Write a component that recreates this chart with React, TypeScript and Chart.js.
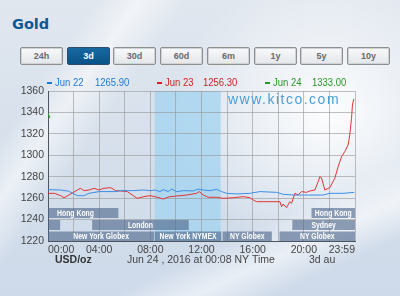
import React, { useEffect, useRef } from 'react';
import { Chart, registerables } from 'chart.js';

Chart.register(...registerables);

// ---------- data ----------
const jun22Hours = [0, 1.0, 1.6, 2.3, 2.8, 3.2, 4.0, 5.3, 5.7, 6.6, 7.5, 8.0, 8.4, 8.75, 9.0, 9.4, 9.66, 10.05, 10.6, 11.35, 11.74, 12.14, 12.66, 13.18, 13.57, 13.96, 14.74, 15.78, 16.56, 17.86, 18.38, 19.17, 21.5, 22.03, 23.07, 23.95];
const jun22Values = [1267.9, 1267.6, 1266.5, 1262.3, 1262.3, 1264.5, 1266.1, 1266.1, 1267.0, 1267.0, 1267.6, 1267.0, 1267.6, 1266.1, 1267.9, 1266.1, 1268.5, 1266.1, 1267.0, 1266.7, 1268.5, 1267.6, 1267.0, 1268.2, 1266.1, 1264.5, 1263.9, 1264.5, 1266.1, 1265.4, 1263.6, 1262.9, 1262.9, 1264.5, 1264.5, 1265.4];

const jun23Hours = [0, 0.5, 1.0, 1.25, 1.64, 2.29, 2.55, 2.81, 3.2, 3.6, 3.98, 4.37, 4.9, 5.29, 5.68, 6.2, 6.59, 6.98, 7.5, 7.97, 8.36, 9.01, 9.53, 10.05, 10.83, 11.35, 11.62, 11.82, 12.14, 12.53, 13.18, 13.7, 14.48, 15.26, 15.78, 16.04, 16.3, 18.13, 18.26, 18.38, 18.65, 18.9, 19.04, 19.3, 19.56, 19.82, 20.21, 20.47, 20.86, 21.12, 21.25, 21.38, 21.64, 22.03, 22.42, 22.68, 22.95, 23.2, 23.46, 23.59, 23.73, 23.8, 23.9];
const jun23Values = [1264.5, 1264.5, 1262.3, 1260.4, 1262.9, 1267.6, 1269.2, 1267.0, 1267.6, 1269.2, 1267.6, 1269.2, 1269.8, 1267.0, 1266.7, 1266.1, 1262.9, 1259.8, 1261.4, 1262.3, 1261.4, 1259.2, 1261.4, 1262.0, 1262.9, 1263.9, 1264.5, 1266.1, 1262.9, 1260.8, 1260.8, 1259.8, 1260.4, 1261.4, 1260.4, 1258.3, 1256.7, 1256.7, 1252.0, 1254.5, 1251.1, 1256.7, 1255.2, 1264.5, 1263.0, 1266.1, 1265.4, 1266.7, 1267.6, 1275.4, 1280.0, 1279.0, 1267.6, 1269.8, 1278.5, 1289.4, 1298.7, 1303.4, 1309.6, 1318.9, 1334.5, 1346.9, 1352.5];

const jun24Hours = [0, 0.15];
const jun24Values = [1339, 1335];

const legendLabels = ['Jun 22', 'Jun 23', 'Jun 24'];
const legendValues = ['1265.90', '1256.30', '1333.00'];

const xTickHours = [0, 2, 4, 6, 8, 10, 12, 14, 16, 18, 20, 22, 24];
const xTickLabels = ['00:00', '', '04:00', '', '08:00', '', '12:00', '', '16:00', '', '20:00', '', '23:59'];

const nymexBand = [8.333, 13.5];

const sessionNames = ['Hong Kong', '', 'London', 'New York Globex', 'New York NYMEX', 'NY Globex', 'Hong Kong', 'Sydney', 'NY Globex'];
const sessionStart = [-1.2, 0, 3.45, 0, 8.35, 13.65, 20.6, 19.1, 18.1];
const sessionEnd = [5.5, 0.95, 11.0, 8.3, 13.55, 17.5, 24, 24, 24];
const sessionRow = [0, 1, 1, 2, 2, 2, 0, 1, 2];

const ranges = ['24h', '3d', '30d', '60d', '6m', '1y', '5y', '10y'];
const selectedRange = '3d';

// ---------- style ----------
const SANS = '"Liberation Sans", Arial, sans-serif';
const BLUE = '#3a8ee6';
const RED = '#e03434';
const GREEN = '#2f9e2f';
const LEGEND_COLORS = ['#1f7ad6', '#d21f1f', '#2a962a'];

function txt(ctx: CanvasRenderingContext2D, s: string, x: number, y: number, font: string, color: string, align: CanvasTextAlign = 'left', sx = 1, spacing = 0) {
  ctx.save();
  ctx.font = font;
  ctx.fillStyle = color;
  ctx.textAlign = align;
  ctx.textBaseline = 'middle';
  if (spacing) (ctx as any).letterSpacing = spacing + 'px';
  ctx.translate(x, y);
  ctx.scale(sx, 1);
  ctx.fillText(s, 0, 0);
  ctx.restore();
}

const overlayPlugin = {
  id: 'overlay',
  beforeDraw(chart: any) {
    const { ctx, chartArea: a, scales } = chart;
    const x = scales.x;
    ctx.save();
    ctx.fillStyle = 'rgba(160,210,240,0.72)';
    const x0 = x.getPixelForValue(nymexBand[0]);
    const x1 = x.getPixelForValue(nymexBand[1]);
    ctx.fillRect(x0, a.top, x1 - x0, a.bottom - a.top);
    ctx.restore();
  },
  beforeDatasetsDraw(chart: any) {
    const { ctx, chartArea: a, scales } = chart;
    const x = scales.x;
    // watermark
    txt(ctx, 'www.kitco.com', a.left + 180, a.top + 9, '14px ' + SANS, '#4a9fd8', 'left', 1, 1.5);
    // session bars
    const rows = [[a.bottom - 33, a.bottom - 23], [a.bottom - 21, a.bottom - 11], [a.bottom - 9.5, a.bottom]];
    ctx.save();
    ctx.beginPath();
    ctx.rect(a.left, a.top, a.right - a.left, a.bottom - a.top);
    ctx.clip();
    sessionNames.forEach((name, i) => {
      const xs = x.getPixelForValue(sessionStart[i]);
      const xe = x.getPixelForValue(sessionEnd[i]);
      const [t, b] = rows[sessionRow[i]];
      ctx.fillStyle = 'rgba(78,102,138,0.62)';
      ctx.fillRect(xs, t, xe - xs, b - t);
      if (name) txt(ctx, name, (xs + xe) / 2, (t + b) / 2 + 0.5, 'bold 9.5px ' + SANS, '#ffffff', 'center', 0.72);
    });
    ctx.restore();
  },
  afterDraw(chart: any) {
    const { ctx } = chart;
    const dashX = [47, 157, 265];
    const labX = [55, 165, 273];
    const valX = [95, 203, 312];
    const ly = 83;
    legendLabels.forEach((l, i) => {
      ctx.save();
      ctx.fillStyle = LEGEND_COLORS[i];
      ctx.fillRect(dashX[i], ly - 1, 5, 2);
      ctx.restore();
      txt(ctx, l, labX[i], ly, '10px ' + SANS, LEGEND_COLORS[i], 'left', 0.95);
      txt(ctx, legendValues[i], valX[i], ly, '10px ' + SANS, LEGEND_COLORS[i], 'left', 0.95);
    });
    txt(ctx, 'USD/oz', 55, 260, 'bold 10.5px ' + SANS, '#333333');
    txt(ctx, 'Jun 24 , 2016 at 00:08 NY Time', 127, 260, '10.5px ' + SANS, '#444444');
    txt(ctx, '3d au', 309, 260, '10.5px ' + SANS, '#444444');
  },
};

export default function App() {
  const ref = useRef<HTMLCanvasElement>(null);
  useEffect(() => {
    const toPts = (hs: number[], vs: number[]) => hs.map((h, i) => ({ x: h, y: vs[i] }));
    const chart = new Chart(ref.current!, {
      type: 'line',
      data: {
        datasets: [
          { label: 'Jun 22', data: toPts(jun22Hours, jun22Values), borderColor: BLUE, borderWidth: 1, pointRadius: 0, tension: 0 },
          { label: 'Jun 23', data: toPts(jun23Hours, jun23Values), borderColor: RED, borderWidth: 1, pointRadius: 0, tension: 0 },
          { label: 'Jun 24', data: toPts(jun24Hours, jun24Values), borderColor: GREEN, borderWidth: 1.2, pointRadius: 0, tension: 0 },
        ],
      },
      options: {
        animation: false,
        responsive: false,
        devicePixelRatio: 1,
        layout: { padding: { left: 0, top: 91, right: 45, bottom: 39 } },
        plugins: { legend: { display: false }, tooltip: { enabled: false } },
        scales: {
          x: {
            type: 'linear',
            min: 0,
            max: 24,
            afterBuildTicks: (s: any) => { s.ticks = xTickHours.map((v) => ({ value: v })); },
            afterFit: (s: any) => { s.height = 16; },
            ticks: {
              autoSkip: false,
              maxRotation: 0,
              align: 'inner',
              padding: 3,
              color: '#444',
              font: { family: SANS, size: 10.5 },
              callback: (v: any) => { const i = xTickHours.indexOf(Number(v)); return i >= 0 ? xTickLabels[i] : ''; },
            },
            grid: { color: 'rgba(150,150,150,0.6)', drawTicks: false },
            border: { color: '#4d5560', width: 1 },
          },
          y: {
            min: 1220,
            max: 1360,
            afterFit: (s: any) => { s.width = 48; },
            ticks: { stepSize: 20, padding: 4, color: '#444', font: { family: SANS, size: 10.5 }, callback: (v: any) => String(v) },
            grid: { color: 'rgba(150,150,150,0.6)', drawTicks: false },
            border: { color: '#4d5560', width: 1 },
          },
        },
      } as any,
      plugins: [overlayPlugin],
    });
    return () => chart.destroy();
  }, []);

  const bg = [
    'linear-gradient(125deg, rgba(255,255,255,0) 16%, rgba(255,255,255,0.55) 23%, rgba(255,255,255,0) 31%)',
    'linear-gradient(155deg, rgba(255,255,255,0) 72%, rgba(255,255,255,0.55) 80%, rgba(255,255,255,0) 88%)',
    'radial-gradient(ellipse 55% 65% at 82% 38%, rgba(255,255,255,0.95), rgba(255,255,255,0) 72%)',
    'linear-gradient(180deg, #e1e7ef 0%, #d5dfeb 55%, #cedaea 100%)',
  ].join(',');

  return (
    <div style={{ position: 'fixed', left: 0, top: 0, width: 400, height: 296, overflow: 'hidden', background: bg }}>
      <div style={{ position: 'absolute', left: 12, top: 17, font: 'bold 14.5px "DejaVu Sans", sans-serif', lineHeight: 1, color: '#0b5a96' }}>Gold</div>
      {ranges.map((r, i) => {
        const sel = r === selectedRange;
        return (
          <div
            key={r}
            style={{
              position: 'absolute',
              left: Math.round(20 + i * 46.7),
              top: 47,
              width: 43,
              height: 18,
              boxSizing: 'border-box',
              border: sel ? '1px solid #2f4d6b' : '1px solid #8f8f8f',
              boxShadow: sel ? 'none' : 'inset 0 0 0 1px #cfd2d6',
              borderRadius: 2,
              background: sel ? 'linear-gradient(#1768a0, #0a5488)' : 'linear-gradient(#f8f9fa, #e3e6ea)',
              color: sel ? '#ffffff' : '#6a6a6a',
              font: 'bold 9px "Liberation Sans", Arial, sans-serif',
              display: 'flex',
              alignItems: 'center',
              justifyContent: 'center',
            }}
          >
            {r}
          </div>
        );
      })}
      <canvas ref={ref} width={400} height={296} style={{ position: 'absolute', left: 0, top: 0 }} />
    </div>
  );
}
